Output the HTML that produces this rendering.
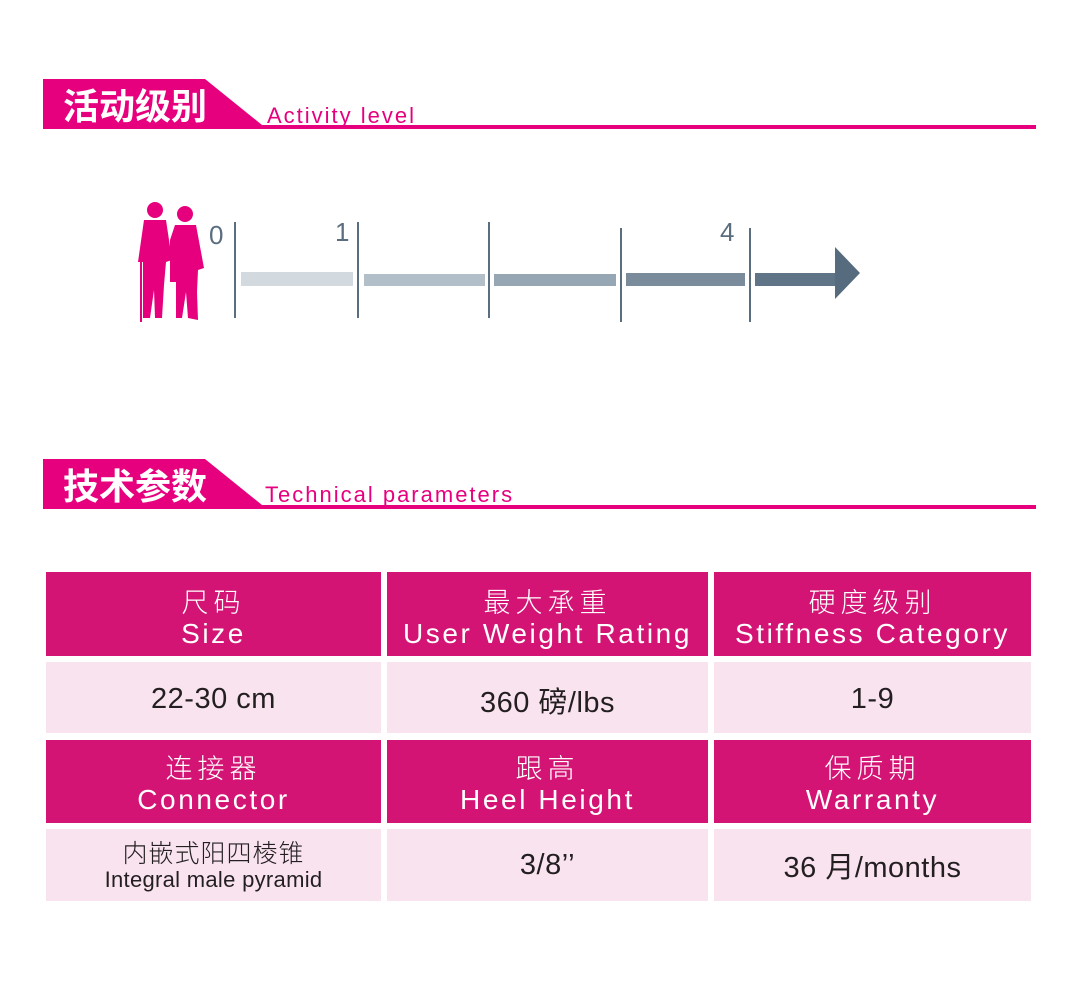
<!DOCTYPE html>
<html><head><meta charset="utf-8"><style>
*{margin:0;padding:0;box-sizing:border-box}
body{width:1080px;height:985px;background:#fff;position:relative;overflow:hidden;font-family:"Liberation Sans","Noto Sans CJK SC",sans-serif}
.a{position:absolute}
.h{position:absolute;background:#d31474;color:#fff;text-align:center;font-size:28px;line-height:33px;letter-spacing:2.6px}
.h div{font-family:"Noto Sans CJK SC",sans-serif;font-weight:300;letter-spacing:5px;font-size:27px}
.d{position:absolute;background:#f9e3ef;color:#231f20;text-align:center;font-size:29px;letter-spacing:0.5px;display:flex;flex-direction:column;justify-content:center;align-items:center}
.tk{position:absolute;width:2px;background:#5a6e80}
.n{position:absolute;color:#5a6e80;font-size:26px}
</style></head><body>
<svg class="a" style="left:0;top:0" width="1080" height="985">
<polygon points="43,79 205,79 262,125 1036,125 1036,129 43,129" fill="#e6007e"/>
<polygon points="43,459 205,459 262,505 1036,505 1036,509 43,509" fill="#e6007e"/>
<rect x="241" y="272" width="112" height="14" fill="#d2dae0"/>
<rect x="364" y="274" width="121" height="12" fill="#b2bec8"/>
<rect x="494" y="274" width="122" height="12" fill="#96a6b3"/>
<rect x="626" y="273" width="119" height="13" fill="#7a8c9b"/>
<rect x="755" y="273" width="80" height="13" fill="#5f7486"/>
<polygon points="835,247 860,273 835,299" fill="#566b7e"/>
<g fill="#e6007e">
<circle cx="155" cy="210" r="8"/><path d="M144 220 L166 220 L172 260 L166 262 L164 285 L162 318 L155 318 L154 290 L150 318 L143 318 L143 262 L138 262 Z"/>
<rect x="140" y="255" width="2" height="67"/>
<circle cx="185" cy="214" r="8"/><path d="M175 225 L196 225 L204 268 L198 270 L197 292 L198 320 L188 318 L186 292 L182 318 L176 318 L176 282 L170 282 L170 240 Z"/>
</g>
</svg>
<div class="a" style="left:63px;top:82px;color:#fff;font-size:36px;font-weight:bold;font-family:'Noto Sans CJK SC',sans-serif;line-height:44px">活动级别</div>
<div class="a" style="left:267px;top:103px;color:#e6007e;font-size:22px;letter-spacing:2px">Activity level</div>
<div class="a" style="left:63px;top:462px;color:#fff;font-size:36px;font-weight:bold;font-family:'Noto Sans CJK SC',sans-serif;line-height:44px">技术参数</div>
<div class="a" style="left:265px;top:482px;color:#e6007e;font-size:22px;letter-spacing:2px">Technical parameters</div>
<div class="tk" style="left:234px;top:222px;height:96px"></div>
<div class="tk" style="left:357px;top:222px;height:96px"></div>
<div class="tk" style="left:488px;top:222px;height:96px"></div>
<div class="tk" style="left:620px;top:228px;height:94px"></div>
<div class="tk" style="left:749px;top:228px;height:94px"></div>
<div class="n" style="left:209px;top:220px">0</div>
<div class="n" style="left:335px;top:217px">1</div>
<div class="n" style="left:720px;top:217px">4</div>

<div class="h" style="left:46px;top:572px;width:335px;height:84px;padding-top:12px"><div>尺码</div>Size</div>
<div class="h" style="left:387px;top:572px;width:321px;height:84px;padding-top:12px"><div>最大承重</div>User Weight Rating</div>
<div class="h" style="left:714px;top:572px;width:317px;height:84px;padding-top:12px"><div>硬度级别</div>Stiffness Category</div>
<div class="d" style="left:46px;top:662px;width:335px;height:71px;padding-top:4px">22-30 cm</div>
<div class="d" style="left:387px;top:662px;width:321px;height:71px;padding-top:4px">360 磅/lbs</div>
<div class="d" style="left:714px;top:662px;width:317px;height:71px;padding-top:4px">1-9</div>
<div class="h" style="left:46px;top:740px;width:335px;height:83px;padding-top:10px"><div>连接器</div>Connector</div>
<div class="h" style="left:387px;top:740px;width:321px;height:83px;padding-top:10px"><div>跟高</div>Heel Height</div>
<div class="h" style="left:714px;top:740px;width:317px;height:83px;padding-top:10px"><div>保质期</div>Warranty</div>
<div class="d" style="left:46px;top:829px;width:335px;height:72px;line-height:27px;padding-top:2px"><span style="font-family:'Noto Sans CJK SC',sans-serif;font-weight:300;font-size:25px;letter-spacing:1px">内嵌式阳四棱锥</span><span style="font-size:22px;letter-spacing:0.3px">Integral male pyramid</span></div>
<div class="d" style="left:387px;top:829px;width:321px;height:72px">3/8’’</div>
<div class="d" style="left:714px;top:829px;width:317px;height:72px">36 月/months</div>
</body></html>
